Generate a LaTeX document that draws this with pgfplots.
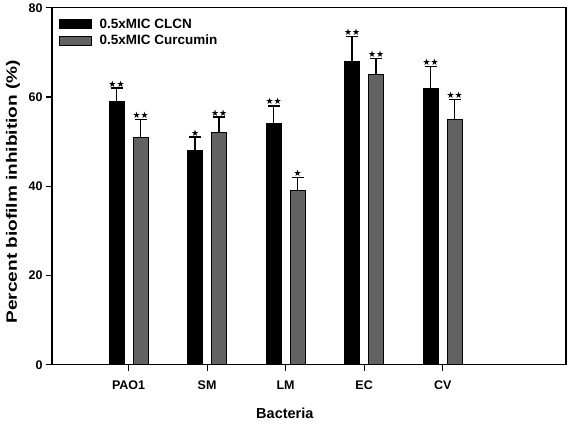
\documentclass[border=0pt]{standalone}
\usepackage{fontspec}
\setmainfont{Liberation Sans}
\newfontfamily\djfont{DejaVu Sans}
\usepackage{pgfplots}
\usepackage{pgfplotstable}
\pgfplotsset{compat=1.18}
\definecolor{barGray}{RGB}{98,98,98}
\pgfplotstableread{
xb xg b be g ge bt gt bs gs
-0.153 0.153 59 3.0 51 4.0 62.0 55.0 ★★ ★★
0.847 1.153 48 3.0 52 3.5 51.0 55.5 ★ ★★
1.847 2.153 54 4.0 39 3.0 58.0 42.0 ★★ ★
2.847 3.153 68 5.5 65 3.6 73.5 68.6 ★★ ★★
3.847 4.153 62 4.8 55 4.4 66.8 59.4 ★★ ★★
}\data
\begin{document}
\begin{tikzpicture}
\begin{axis}[
  name=ax,
  scale only axis,
  width=514pt, height=357pt,
  xmin=-0.975, xmax=5.57,
  ymin=0, ymax=80,
  ytick={0,20,40,60,80},
  xtick={0,1,2,3,4},
  xticklabels={PAO1,SM,LM,EC,CV},
  axis lines*=left,
  tick align=outside,
  major tick length=6pt,
  axis line style={line width=1.3pt},
  every tick/.style={black, line width=1.1pt},
  /pgf/number format/assume math mode=true,
  ticklabel style={font=\bfseries\fontsize{12.5}{14}\selectfont},
  xticklabel style={yshift=-6.5pt},
  xlabel={Bacteria},
  ylabel={Percent biofilm inhibition (\%)},
  xlabel style={font=\bfseries\fontsize{14.5}{16}\selectfont, at={(axis description cs:0.453,0)}, anchor=center, yshift=-49pt},
  ylabel style={font=\bfseries\fontsize{15}{17}\selectfont, at={(axis description cs:0,0.5)}, anchor=center, xshift=-5.5pt, yshift=39pt, xscale=1.27},
  legend style={draw=none, fill=none, at={(axis description cs:0.013,0.975)}, anchor=north west,
    font=\bfseries\fontsize{13.5}{15}\selectfont, row sep=1pt, inner sep=0pt,
    /tikz/every even column/.append style={column sep=0pt}},
  legend cell align=left,
]
\addplot[ybar, bar width=15pt, bar shift=0pt, fill=black, draw=black, line width=0.8pt,
  error bars/.cd, y dir=plus, y explicit, error mark=-, error mark options={rotate=90, mark size=6pt, line width=1.4pt, black},
  error bar style={line width=1.4pt, black},
  /pgfplots/legend image code/.code={\draw[fill=black,draw=black,line width=0.8pt] (0pt,-4.5pt) rectangle (32pt,4.5pt);}]
  table[x=xb, y=b, y error=be] {\data};
\addlegendentry{\hspace{6pt}0.5xMIC CLCN}
\addplot[ybar, bar width=15pt, bar shift=0pt, fill=barGray, draw=black, line width=0.8pt,
  error bars/.cd, y dir=plus, y explicit, error mark=-, error mark options={rotate=90, mark size=6pt, line width=1.4pt, black},
  error bar style={line width=1.4pt, black},
  /pgfplots/legend image code/.code={\draw[fill=barGray,draw=black,line width=0.8pt] (0pt,-4.5pt) rectangle (32pt,4.5pt);}]
  table[x=xg, y=g, y error=ge] {\data};
\addlegendentry{\hspace{6pt}0.5xMIC Curcumin}
\addplot[ybar, bar width=15pt, bar shift=0pt, draw=none, fill=none, forget plot,
  nodes near coords, point meta=explicit symbolic,
  every node near coord/.style={anchor=south, inner sep=0.8pt, font=\djfont\fontsize{9}{9}\selectfont, black}]
  table[x=xb, y=bt, meta=bs] {\data};
\addplot[ybar, bar width=15pt, bar shift=0pt, draw=none, fill=none, forget plot,
  nodes near coords, point meta=explicit symbolic,
  every node near coord/.style={anchor=south, inner sep=0.8pt, font=\djfont\fontsize{9}{9}\selectfont, black}]
  table[x=xg, y=gt, meta=gs] {\data};
\end{axis}
\draw[line width=1.3pt] (ax.north west) -- (ax.north east) -- (ax.south east);
\path ([xshift=-52pt,yshift=-59pt]ax.south west) rectangle ([xshift=1pt,yshift=7pt]ax.north east);
\end{tikzpicture}
\end{document}
